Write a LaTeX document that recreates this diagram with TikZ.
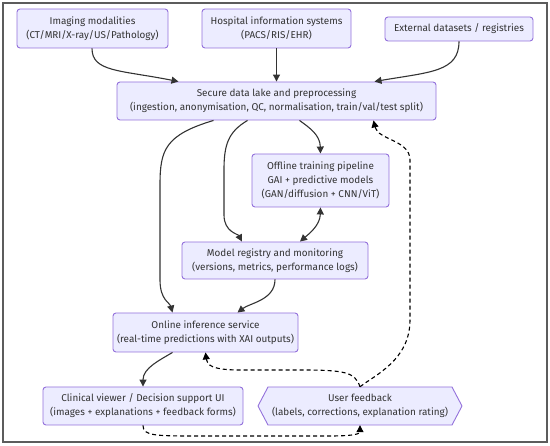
\documentclass[tikz,border=0pt]{standalone}
\usepackage{fontspec}
\setmainfont{Fira Sans}
\usetikzlibrary{arrows.meta,calc}
\definecolor{boxfill}{HTML}{ECECFF}
\definecolor{boxline}{HTML}{9370DB}
\definecolor{edge}{HTML}{333333}
\tikzset{
  x=1pt,y=-1pt,
  box/.style={draw=boxline,fill=boxfill,line width=0.9pt,rounded corners=3pt,align=center,inner sep=0pt,text=edge,font=\fontsize{9.9}{14}\selectfont},
  plainbox/.style={align=center,inner sep=0pt,text=edge,font=\fontsize{9.9}{14}\selectfont},
  flow/.style={draw=edge,line width=1.1pt,-{Triangle[length=7pt,width=7pt]}},
  flowboth/.style={draw=edge,line width=1.1pt,{Triangle[length=7pt,width=7pt]}-{Triangle[length=7pt,width=7pt]}},
  fback/.style={draw=black,line width=1.1pt,dash pattern=on 4pt off 3pt,-{Triangle[length=7pt,width=7pt]}},
}
\begin{document}
\begin{tikzpicture}
\useasboundingbox (0,0) rectangle (550,446);
\draw[draw=edge!80,line width=1.2pt] (3,3) rectangle (547,442);

\node[box,minimum width=151pt,minimum height=39pt] (img) at (92.5,28.5) {Imaging modalities\\(CT/MRI/X-ray/US/Pathology)};
\node[box,minimum width=149pt,minimum height=39pt] (his) at (276.5,28.5) {Hospital information systems\\(PACS/RIS/EHR)};
\node[box,minimum width=148pt,minimum height=24pt] (ext) at (459,29) {External datasets / registries};
\node[box,minimum width=319pt,minimum height=38pt] (lake) at (276.5,101) {Secure data lake and preprocessing\\(ingestion, anonymisation, QC, normalisation, train/val/test split)};
\node[box,minimum width=137pt,minimum height=53pt] (off) at (320.5,180.5) {Offline training pipeline\\GAI + predictive models\\(GAN/diffusion + CNN/ViT)};
\node[box,minimum width=186pt,minimum height=37pt] (reg) at (275,260.5) {Model registry and monitoring\\(versions, metrics, performance logs)};
\node[box,minimum width=185pt,minimum height=39pt] (onl) at (205.5,332.5) {Online inference service\\(real-time predictions with XAI outputs)};
\node[box,minimum width=200pt,minimum height=38pt] (cli) at (143,406) {Clinical viewer / Decision support UI\\(images + explanations + feedback forms)};
\coordinate (fbc) at (360,406);
\path[draw=boxline,fill=boxfill,line width=0.9pt,line join=round]
  ($(fbc)+(-102,0)$) -- ($(fbc)+(-92,-19)$) -- ($(fbc)+(92,-19)$) -- ($(fbc)+(102,0)$)
  -- ($(fbc)+(92,19)$) -- ($(fbc)+(-92,19)$) -- cycle;
\node[plainbox,minimum width=204pt,minimum height=38pt] (fb) at (fbc) {User feedback\\(labels, corrections, explanation rating)};

% inputs
\draw[flow] ([xshift=-0.5pt]img.south) .. controls (92,72) and (120,70) .. ([xshift=-98pt]lake.north);
\draw[flow] (his.south) -- (lake.north);
\draw[flow] (ext.south) .. controls (459,72) and (430,72) .. ([xshift=98pt]lake.north);

% from lake
\draw[flow] ([xshift=-63pt]lake.south) .. controls (165,135) and (160,150) .. (160,185)
  -- (160,280) .. controls (160,300) and (170,303) .. ([xshift=-33pt]onl.north);
\draw[flow] ([xshift=-29pt]lake.south) .. controls (228,132) and (224,145) .. (224,170)
  -- (224,215) .. controls (224,232) and (238,234) .. ([xshift=-33pt]reg.north);
\draw[flow] ([xshift=23pt]lake.south) .. controls (310,128) and (320,135) .. (off.north);
\draw[flowboth] (off.south) .. controls (320,225) and (310,233) .. ([xshift=25pt]reg.north);
\draw[flow] (reg.south) .. controls (275,300) and (250,303) .. ([xshift=32pt]onl.north);
\draw[flow] ([xshift=-33pt]onl.south) .. controls (160,360) and (143,368) .. (cli.north);

% feedback loops
\draw[fback] (cli.south) .. controls (143,436) and (155,436) .. (200,436)
  -- (330,436) .. controls (358,436) and (360,433) .. (fb.south);
\draw[fback] (fb.north) .. controls (355,372) and (345,370) .. (300,370)
  -- (240,370) .. controls (212,370) and (207,365) .. (onl.south);
\draw[fback] (fb.north) .. controls (375,375) and (410,360) .. (410,320)
  -- (410,160) .. controls (410,140) and (378,140) .. ([xshift=97pt]lake.south);
\end{tikzpicture}
\end{document}
